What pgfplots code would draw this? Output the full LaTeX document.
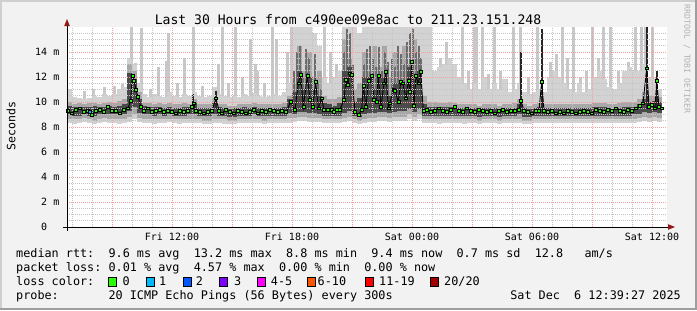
\documentclass[border=0pt]{standalone}
\usepackage{pgfplots}
\pgfplotsset{compat=1.18}
\usepackage{pgfplotstable}
\usepackage{fontspec}
\setmainfont{DejaVu Sans Mono}
\setmonofont{DejaVu Sans Mono}
\frenchspacing
\definecolor{bgc}{HTML}{F2F2F2}
\definecolor{shadeA}{HTML}{CFCFCF}
\definecolor{shadeB}{HTML}{9E9E9E}
\definecolor{smokeL}{HTML}{D2D2D2}
\definecolor{smokeS}{HTML}{C8C8C8}
\definecolor{smokeM}{HTML}{A8A8A8}
\definecolor{smokeG}{HTML}{6C6C6C}
\definecolor{smokeD}{HTML}{4A4A4A}
\definecolor{gridmaj}{HTML}{F2A0A0}
\definecolor{gridmin}{HTML}{C4C4C4}
\definecolor{arrowred}{HTML}{901818}
\definecolor{l0}{HTML}{26FF00}
\definecolor{l1}{HTML}{00B8FF}
\definecolor{l2}{HTML}{0059FF}
\definecolor{l3}{HTML}{7E00FF}
\definecolor{l5}{HTML}{FF00FF}
\definecolor{l10}{HTML}{FF5500}
\definecolor{l19}{HTML}{FF0000}
\definecolor{l20}{HTML}{A10000}

\pgfplotstableread{
t lo hi mlo mhi dlo dhi
6.875 8.3 11.0 8.6 10.0 9.0 9.7
7.125 8.2 10.4 8.6 9.8 8.9 9.6
7.375 8.3 10.3 8.6 9.9 8.9 9.6
7.625 8.4 10.2 8.7 9.8 9.0 9.6
7.875 8.3 10.3 8.6 9.9 8.9 9.6
8.125 8.2 10.5 8.5 9.9 8.9 9.7
8.375 8.3 10.4 8.6 9.8 9.0 9.6
8.625 8.4 10.6 8.7 9.9 9.0 9.6
8.875 8.3 10.5 8.6 10.0 9.0 9.7
9.125 8.3 10.6 8.6 9.9 9.0 9.6
9.375 8.2 11.0 8.6 10.1 9.0 9.7
9.625 8.3 11.2 8.6 10.2 9.0 9.8
9.875 8.4 13.5 8.8 13.0 9.3 12.3
10.125 8.6 13.0 9.0 12.5 9.6 11.8
10.375 8.4 11.5 8.7 10.8 9.1 10.2
10.625 8.3 10.6 8.6 9.9 9.0 9.7
10.875 8.3 10.4 8.6 9.9 9.0 9.6
11.125 8.2 10.6 8.6 9.8 8.9 9.6
11.375 8.3 10.5 8.6 9.9 9.0 9.6
11.625 8.3 10.4 8.6 9.8 8.9 9.5
11.875 8.4 10.8 8.6 9.9 9.0 9.6
12.125 8.3 10.5 8.6 9.8 8.9 9.5
12.375 8.2 10.4 8.6 9.8 8.9 9.5
12.625 8.3 10.6 8.6 9.9 8.9 9.6
12.875 8.3 10.5 8.6 9.8 9.0 9.6
13.125 8.3 10.8 8.6 10.2 9.0 9.9
13.375 8.3 10.5 8.6 9.8 8.9 9.5
13.625 8.2 10.4 8.5 9.8 8.9 9.5
13.875 8.2 10.5 8.5 9.8 8.9 9.5
14.125 8.3 11.2 8.6 10.3 9.0 10.0
14.375 8.3 10.6 8.6 9.8 8.9 9.6
14.625 8.2 10.5 8.6 9.8 8.9 9.5
14.875 8.2 10.4 8.5 9.7 8.8 9.4
15.125 8.2 10.5 8.5 9.7 8.8 9.5
15.375 8.3 10.4 8.6 9.8 8.9 9.5
15.625 8.3 10.6 8.6 9.8 8.9 9.6
15.875 8.3 10.5 8.6 9.8 8.9 9.5
16.125 8.3 10.7 8.6 9.9 9.0 9.6
16.375 8.3 10.5 8.6 9.8 8.9 9.5
16.625 8.2 10.4 8.5 9.8 8.9 9.5
16.875 8.3 10.5 8.6 9.8 8.9 9.5
17.125 8.3 10.6 8.6 9.8 8.9 9.5
17.375 8.3 10.5 8.6 9.8 8.9 9.5
17.625 8.3 10.8 8.6 9.9 8.9 9.6
17.875 8.3 11.5 8.7 10.5 9.1 10.2
18.125 8.4 16.0 8.7 11.5 9.0 10.8
18.375 8.5 16.0 8.8 14.5 9.2 12.5
18.625 8.5 16.0 8.8 12.5 9.2 11.0
18.875 8.4 16.0 8.7 14.0 9.1 12.0
19.125 8.4 15.5 8.7 12.0 9.1 11.0
19.375 8.4 14.5 8.7 12.5 9.0 10.5
19.625 8.3 12.0 8.6 10.5 8.9 9.9
19.875 8.3 11.5 8.6 10.2 8.9 9.8
20.125 8.3 12.0 8.6 10.2 8.9 9.7
20.375 8.3 12.5 8.6 10.4 8.9 9.9
20.625 8.4 16.0 8.7 15.0 9.1 12.5
20.875 8.5 16.0 8.8 13.5 9.3 12.8
21.125 8.3 16.0 8.6 11.0 8.9 10.0
21.375 8.2 15.5 8.5 11.5 8.8 10.3
21.625 8.3 16.0 8.6 14.0 9.0 12.0
21.875 8.4 16.0 8.7 12.5 9.1 12.0
22.125 8.4 16.0 8.7 14.5 9.1 11.0
22.375 8.5 16.0 8.8 12.8 9.2 12.0
22.625 8.5 16.0 8.8 14.5 9.2 12.0
22.875 8.4 16.0 8.7 12.0 9.1 10.5
23.125 8.5 16.0 8.8 14.0 9.2 11.5
23.375 8.5 16.0 8.8 12.5 9.3 11.5
23.625 8.5 16.0 8.8 14.5 9.3 11.5
23.875 8.6 16.0 9.0 13.0 9.4 12.8
24.125 8.5 16.0 8.8 15.0 9.2 11.8
24.375 8.6 16.0 9.0 13.5 9.4 12.5
24.625 8.3 16.0 8.6 10.5 8.9 9.8
24.875 8.3 16.0 8.6 10.0 8.9 9.6
25.125 8.3 12.5 8.6 10.0 8.9 9.6
25.375 8.2 12.8 8.6 9.9 8.9 9.6
25.625 8.3 13.0 8.6 9.9 8.9 9.6
25.875 8.3 13.5 8.6 10.0 8.9 9.6
26.125 8.3 13.0 8.6 9.9 8.9 9.6
26.375 8.3 12.0 8.6 9.8 8.9 9.5
26.625 8.2 11.5 8.6 9.8 8.9 9.5
26.875 8.3 11.0 8.6 9.8 8.9 9.5
27.125 8.3 11.5 8.6 9.8 8.9 9.5
27.375 8.2 11.0 8.5 9.7 8.8 9.4
27.625 8.3 12.0 8.6 9.8 8.9 9.5
27.875 8.3 11.0 8.6 9.8 8.9 9.5
28.125 8.3 11.5 8.6 9.8 8.9 9.5
28.375 8.2 11.0 8.5 9.7 8.8 9.4
28.625 8.3 11.8 8.6 9.8 8.9 9.5
28.875 8.3 10.8 8.6 9.8 8.9 9.5
29.125 8.3 11.0 8.6 9.9 8.9 9.5
29.375 8.3 11.5 8.6 10.2 9.0 9.8
29.625 8.2 10.8 8.5 9.8 8.8 9.5
29.875 8.2 10.6 8.5 9.7 8.8 9.4
30.125 8.3 10.8 8.6 9.8 8.9 9.5
30.375 8.3 11.0 8.6 9.9 8.9 9.6
30.625 8.3 10.8 8.6 9.8 8.9 9.5
30.875 8.3 12.0 8.6 9.8 8.9 9.5
31.125 8.3 12.5 8.6 9.8 8.9 9.5
31.375 8.3 12.0 8.6 9.8 8.9 9.5
31.625 8.3 11.5 8.6 9.8 8.9 9.5
31.875 8.3 11.0 8.6 9.8 8.9 9.5
32.125 8.3 10.8 8.6 9.8 8.9 9.5
32.375 8.3 11.5 8.6 9.8 8.9 9.5
32.625 8.3 10.8 8.6 9.8 8.9 9.5
32.875 8.3 11.0 8.6 9.8 8.9 9.5
33.125 8.3 12.0 8.6 9.9 8.9 9.6
33.375 8.3 12.5 8.6 9.9 8.9 9.6
33.625 8.3 11.8 8.6 9.9 8.9 9.6
33.875 8.3 11.2 8.6 9.8 8.9 9.5
34.125 8.3 11.0 8.6 9.8 8.9 9.5
34.375 8.3 11.5 8.6 9.9 8.9 9.5
34.625 8.3 12.5 8.6 10.0 8.9 9.6
34.875 8.3 12.8 8.6 10.0 8.9 9.6
35.125 8.3 12.5 8.6 10.0 9.0 9.6
35.375 8.4 12.5 8.7 10.2 9.0 9.8
35.625 8.5 13.0 8.8 10.8 9.2 10.2
35.875 8.4 12.0 8.7 10.5 9.1 10.0
36.125 8.5 12.0 8.8 10.5 9.2 10.1
36.375 8.4 11.0 8.7 10.4 9.1 10.0
}\base

\pgfplotstableread{
t hi
7.6 10.9
8.05 11.0
8.6 11.2
9.1 11.3
9.5 11.4
9.95 16.0
10.15 13.1
10.45 15.9
10.9 11.0
11.3 12.8
11.7 13.3
11.825 15.5
12.25 11.5
12.6 13.5
13.05 16.0
13.5 11.3
14.3 13.0
14.5 16.0
14.8 11.5
15.15 16.0
15.5 12.0
15.9 15.0
16.15 13.0
16.25 12.5
16.6 11.5
17.0 16.0
17.2 15.0
17.75 14.0
17.95 16.0
19.6 16.0
19.9 14.0
20.2 13.0
25.4 13.5
25.7 14.8
26.5 16.0
26.8 12.5
27.1 16.0
27.2 16.0
27.5 16.0
27.8 12.2
28.1 16.0
28.4 12.5
28.7 11.8
29.05 16.0
29.4 16.0
29.8 12.0
30.25 16.0
30.9 13.2
31.2 13.8
31.5 16.0
31.75 13.5
32.05 16.0
32.4 12.0
32.7 12.5
33.0 16.0
33.3 13.5
33.55 16.0
33.9 16.0
34.3 12.5
34.8 13.2
35.15 16.0
35.45 16.0
35.65 16.0
36.0 16.0
}\spikes

\pgfplotstableread{
t lo hi
18.1 9.6 12.5
18.25 9.6 14.0
18.4 9.6 14.5
18.55 9.6 12.0
18.7 9.6 14.2
18.85 9.6 13.5
19.0 9.6 12.0
19.15 9.6 13.8
19.3 9.6 11.5
19.45 9.6 11.0
20.6 9.6 14.0
20.75 9.6 15.8
20.9 9.6 15.5
21.05 9.6 13.0
21.6 9.6 13.0
21.75 9.6 14.2
21.9 9.6 14.5
22.05 9.6 13.5
22.2 9.6 12.8
22.35 9.6 14.4
22.5 9.6 12.5
22.65 9.6 14.0
22.8 9.6 13.2
23.0 9.6 13.5
23.15 9.6 12.8
23.3 9.6 14.5
23.45 9.6 13.8
23.6 9.6 13.0
23.75 9.6 14.8
23.9 9.6 15.5
24.05 9.6 15.8
24.2 9.6 14.0
24.35 9.6 14.5
24.45 9.6 13.5
}\chaos

\pgfplotstableread{
t lo hi
13.05 9.4 10.6
14.2 9.4 10.9
29.45 9.4 14.0
30.5 9.4 15.8
35.75 9.4 16.0
36.25 9.4 12.5
}\dspk

\pgfplotstableread{
t v
6.8 9.3
7.0 9.1
7.2 9.4
7.4 9.5
7.6 9.2
7.8 9.3
8.0 9.0
8.2 9.3
8.4 9.4
8.6 9.2
8.8 9.6
9.0 9.3
9.2 9.3
9.4 9.1
9.6 9.4
9.8 9.5
9.935 10.1
10.015 12.1
10.1 11.7
10.2 11.0
10.3 10.4
10.45 9.6
10.6 9.3
10.8 9.5
11.0 9.2
11.2 9.3
11.4 9.4
11.6 9.2
11.8 9.3
12.0 9.2
12.2 9.1
12.4 9.3
12.6 9.2
12.8 9.3
13.0 9.6
13.075 9.9
13.2 9.3
13.4 9.2
13.6 9.1
13.8 9.2
14.0 9.3
14.2 10.3
14.35 9.3
14.5 9.1
14.7 9.4
14.9 9.2
15.1 9.1
15.3 9.3
15.5 9.2
15.7 9.1
15.9 9.2
16.1 9.4
16.3 9.1
16.5 9.3
16.7 9.2
16.9 9.4
17.1 9.3
17.3 9.2
17.5 9.3
17.7 9.2
17.935 10.0
18.15 9.36
18.315 11.5
18.435 12.2
18.565 9.6
18.765 12.1
18.9 10.2
19.035 9.6
19.185 11.6
19.315 9.5
19.485 10.3
19.6 9.36
19.765 9.4
19.985 9.4
20.1 9.2
20.235 9.36
20.4 9.4
20.6 10.2
20.7 11.8
20.785 11.4
20.9 12.3
20.985 12.2
21.15 9.2
21.315 8.96
21.485 9.36
21.565 11.3
21.7 9.6
21.815 11.7
21.985 12.1
22.1 10.2
22.235 10.0
22.315 12.1
22.45 9.6
22.6 11.5
22.7 12.4
22.815 9.5
22.9 9.9
23.065 11.0
23.15 10.9
23.315 10.0
23.435 11.6
23.535 11.5
23.7 10.3
23.815 11.7
23.9 10.8
23.985 13.2
24.1 9.7
24.2 12.1
24.315 11.5
24.435 12.4
24.565 9.3
24.75 9.4
24.95 9.2
25.15 9.3
25.35 9.5
25.55 9.3
25.75 9.2
25.95 9.4
26.15 9.6
26.35 9.3
26.55 9.2
26.75 9.5
26.95 9.3
27.15 9.2
27.35 9.4
27.55 9.3
27.75 9.2
27.95 9.3
28.15 9.1
28.35 9.3
28.55 9.4
28.75 9.2
28.95 9.3
29.15 9.3
29.35 9.4
29.45 10.1
29.6 9.3
29.8 9.2
30.0 9.1
30.2 9.3
30.35 9.3
30.485 11.65
30.6 9.3
30.8 9.2
31.0 9.3
31.2 9.1
31.4 9.2
31.6 9.1
31.8 9.3
32.0 9.2
32.2 9.1
32.4 9.2
32.6 9.3
32.8 9.2
33.0 9.1
33.2 9.4
33.4 9.3
33.6 9.2
33.8 9.4
34.0 9.3
34.2 9.5
34.4 9.3
34.6 9.2
34.8 9.4
35.0 9.3
35.2 9.5
35.4 9.7
35.55 9.9
35.735 12.7
35.85 9.6
36.0 9.8
36.15 9.5
36.235 11.7
36.35 9.6
36.5 9.5
}\med

\begin{document}
\begin{tikzpicture}[x=1bp,y=1bp]
\useasboundingbox (0,0) rectangle (697,310);
\fill[bgc] (0,0) rectangle (697,310);
\fill[shadeA] (0,308) rectangle (697,310);
\fill[shadeA] (0,0) rectangle (2,310);
\fill[shadeB] (0,0) rectangle (697,2);
\fill[shadeB] (695,0) rectangle (697,310);

\begin{axis}[
  at={(67bp,83bp)}, anchor=south west,
  scale only axis, width=600bp, height=200bp,
  xmin=6.75, xmax=36.75, ymin=0, ymax=16,
  axis on top,
  axis line style={draw=none},
  axis background/.style={fill=white},
  xtick={9,12,...,36},
  xticklabels={,Fri 12:00,,Fri 18:00,,Sat 00:00,,Sat 06:00,,Sat 12:00},
  minor xtick={7,8,10,11,13,14,16,17,19,20,22,23,25,26,28,29,31,32,34,35},
  ytick={0,2,...,14},
  yticklabels={0\phantom{\ m},2 m,4 m,6 m,8 m,10 m,12 m,14 m},
  minor ytick={0.5,1,1.5,2.5,3,3.5,4.5,5,5.5,6.5,7,7.5,8.5,9,9.5,10.5,11,11.5,12.5,13,13.5,14.5,15,15.5},
  grid=both,
  major grid style={draw=gridmaj, line width=0.8bp, dash pattern=on 1bp off 1bp},
  minor grid style={draw=gridmin, line width=0.8bp, dash pattern=on 1bp off 1bp},
  major tick length=0pt, minor tick length=0pt,
  xticklabel style={font=\fontsize{10bp}{12bp}\selectfont, anchor=base, inner sep=0pt, yshift=-13.7bp},
  yticklabel style={font=\fontsize{10bp}{12bp}\selectfont, anchor=east, inner sep=0pt, xshift=-7.5bp},
  clip=true,
  smoke/.style={draw=none, no markers, forget plot, error bars/.cd, y dir=minus, y explicit, error mark=none},
]
% light spikes as combs from the bottom, then the lower part is painted white again
\addplot[ycomb, draw=smokeS, line width=3bp, no markers, forget plot] table[x=t, y=hi] {\spikes};
\addplot[draw=none, fill=white, forget plot] coordinates {(6.75,10.0) (36.75,10.0)} \closedcycle;
% light smoke base
\addplot[smoke, error bar style={line width=5.1bp, draw=smokeL}]
  table[x=t, y=hi, y error minus expr=\thisrow{hi}-\thisrow{lo}] {\base};
% mid smoke
\addplot[smoke, error bar style={line width=5.1bp, draw=smokeM}]
  table[x=t, y=mhi, y error minus expr=\thisrow{mhi}-\thisrow{mlo}] {\base};
% darker streaks in the busy period
\addplot[smoke, error bar style={line width=2.2bp, draw=smokeG}]
  table[x=t, y=hi, y error minus expr=\thisrow{hi}-\thisrow{lo}] {\chaos};
% dark smoke
\addplot[smoke, error bar style={line width=5.1bp, draw=smokeD}]
  table[x=t, y=dhi, y error minus expr=\thisrow{dhi}-\thisrow{dlo}] {\base};
\addplot[smoke, error bar style={line width=2bp, draw=black!85}]
  table[x=t, y=hi, y error minus expr=\thisrow{hi}-\thisrow{lo}] {\dspk};
% median
\addplot[black, line width=0.9bp, mark=none, forget plot] table[x=t, y=v] {\med};
\addplot[only marks, mark=square*, mark size=1.4bp, mark options={fill=l0, draw=none}, forget plot] table[x=t, y=v] {\med};
\addplot[only marks, mark=square*, mark size=1.4bp, mark options={fill=l1, draw=none}, forget plot] coordinates {(7.9,9.2)};
\end{axis}

% axis lines with arrows
\draw[black, line width=1bp] (67,79) -- (67,286);
\fill[arrowred] (64.2,284) -- (69.8,284) -- (67,291) -- cycle;
\draw[black, line width=1bp] (63,83) -- (670,83);
\fill[arrowred] (668,80.2) -- (668,85.8) -- (675,83) -- cycle;

% title and labels
\node[anchor=base, inner sep=0pt, font=\fontsize{13.1bp}{15bp}\selectfont] at (348,286) {Last 30 Hours from c490ee09e8ac to 211.23.151.248};
\node[rotate=90, inner sep=0pt, font=\fontsize{11.5bp}{13bp}\selectfont] at (11,184) {Seconds};
\node[rotate=-90, inner sep=0pt, text=black!30, font=\fontsize{8.2bp}{10bp}\selectfont] at (687,251) {RRDTOOL / TOBI OETIKER};

% legend
\begin{scope}[every node/.style={anchor=base west, inner sep=0pt, font=\fontsize{11.8bp}{14bp}\selectfont}]
\node at (16,52.5) {median rtt:\ \ 9.6 ms avg\ \ 13.2 ms max\ \ 8.8 ms min\ \ 9.4 ms now\ \ 0.7 ms sd\ \ 12.8\ \ \ am/s};
\node at (16,38.7) {packet loss:\ 0.01 \% avg\ \ 4.57 \% max\ \ 0.00 \% min\ \ 0.00 \% now};
\node at (16,24.7) {loss color:};
\node at (16,10.7) {probe:\ \ \ \ \ \ \ 20 ICMP Echo Pings (56 Bytes) every 300s};
\node[anchor=base east] at (681,10.7) {Sat Dec\ \ 6 12:39:27 2025};
\node at (122.3,24.7) {0};
\node at (159,24.7) {1};
\node at (195.7,24.7) {2};
\node at (234,24.7) {3};
\node at (270.7,24.7) {4-5};
\node at (317.5,24.7) {6-10};
\node at (379,24.7) {11-19};
\node at (444,24.7) {20/20};
\end{scope}
\begin{scope}[line width=1bp]
\filldraw[fill=l0, draw=black] (108.5,23.8) rectangle (116,32.5);
\filldraw[fill=l1, draw=black] (146.5,23.8) rectangle (154,32.5);
\filldraw[fill=l2, draw=black] (183.5,23.8) rectangle (191,32.5);
\filldraw[fill=l3, draw=black] (219.5,23.8) rectangle (227,32.5);
\filldraw[fill=l5, draw=black] (257.5,23.8) rectangle (265,32.5);
\filldraw[fill=l10, draw=black] (307.5,23.8) rectangle (315,32.5);
\filldraw[fill=l19, draw=black] (365.5,23.8) rectangle (373,32.5);
\filldraw[fill=l20, draw=black] (430.5,23.8) rectangle (438,32.5);
\end{scope}
\end{tikzpicture}
\end{document}
